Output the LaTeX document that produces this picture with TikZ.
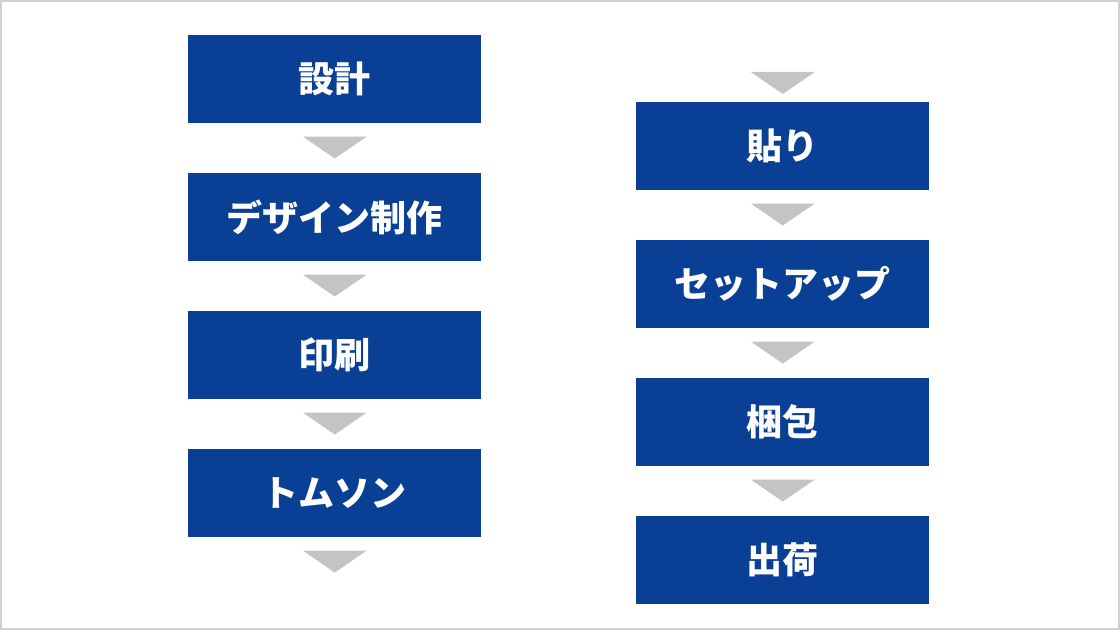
\documentclass[tikz,border=0pt]{standalone}
\usepackage{fontspec}
\newfontfamily\jpfont{Noto Sans CJK JP}
\usetikzlibrary{positioning,calc}
\definecolor{stepblue}{HTML}{0A3F96}
\definecolor{arrowgray}{HTML}{C4C4C4}
\definecolor{framegray}{HTML}{D0D0D0}

\begin{document}
\begin{tikzpicture}[x=0.75pt, y=-0.75pt, node distance = 37.1pt, auto]
    \tikzset{
        stepbox/.style = {fill = stepblue, text = white, minimum width = 219.75pt, minimum height = 66pt,
                          inner sep = 0pt, font = \jpfont\bfseries\fontsize{27}{30}\selectfont},
        tri/.style     = {fill = arrowgray, draw = none}
    }
    % frame
    \draw[framegray, line width = 1.5pt] (1,1) rectangle (1119,629);
    \useasboundingbox (0,0) rectangle (1120,630);

    % left column
    \node[stepbox, anchor = north west] (design) at (188,35) {設計};
    \node[stepbox, below = of design] (art) {デザイン制作};
    \node[stepbox, below = of art] (print) {印刷};
    \node[stepbox, below = of print] (thomson) {トムソン};

    % right column
    \node[stepbox, anchor = north west] (paste) at (636,102) {貼り};
    \node[stepbox, below = of paste] (setup) {セットアップ};
    \node[stepbox, below = of setup] (pack) {梱包};
    \node[stepbox, below = of pack] (ship) {出荷};

    % arrows between steps
    \foreach \a in {design, art, print, thomson, paste, setup, pack}
        \fill[tri] ($(\a.south) + (-32,13)$) -- ++(64,0) -- ++(-32,22) -- cycle;
    \fill[tri] ($(paste.north) + (-32,-30)$) -- ++(64,0) -- ++(-32,22) -- cycle;
\end{tikzpicture}
\end{document}
